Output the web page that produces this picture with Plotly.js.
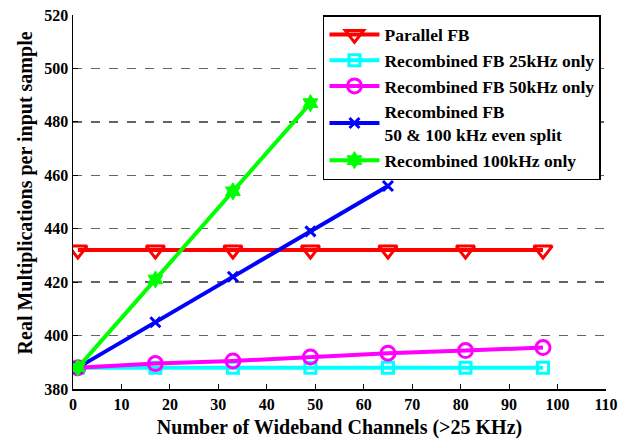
<!DOCTYPE html>
<html><head><meta charset="utf-8">
<script src="https://cdn.plot.ly/plotly-3.0.1.min.js"></script>
<style>html,body{margin:0;padding:0;background:#fff}#chart{width:636px;height:443px}</style>
</head><body><div id="chart"></div>
<script>
const channels = [1, 17, 33, 49, 65, 81, 97];
const parallelFB = [432, 432, 432, 432, 432, 432, 432];
const recomb25 = [388, 388, 388, 388, 388, 388, 388];
const recomb50 = [388, 389.5, 390.5, 392, 393.4, 394.4, 395.5];
const channelsSplit = [1, 17, 33, 49, 65];
const recombSplit = [388, 405, 422, 439, 456];
const channels100 = [1, 17, 33, 49];
const recomb100 = [388, 421, 454, 487];
const names = ['Parallel FB', 'Recombined FB 25kHz only', 'Recombined FB 50kHz only',
  'Recombined FB<br>50 &amp; 100 kHz even split', 'Recombined 100kHz only'];
const xTicks = [0,10,20,30,40,50,60,70,80,90,100,110];
const yTicks = [380,400,420,440,460,480,500,520];
const xTitle = 'Number of Wideband Channels (>25 KHz)';
const yTitle = 'Real Multiplications per input sample';

const FONT = "'Liberation Serif', 'Times New Roman', serif";
const traces = [
  {x: channels, y: parallelFB, name: names[0], mode: 'lines+markers',
   line: {color: 'rgb(255,0,0)', width: 4},
   marker: {symbol: 'triangle-down-open', size: 16, color: 'rgb(255,0,0)', line: {width: 3, color: 'rgb(255,0,0)'}}},
  {x: channels, y: recomb25, name: names[1], mode: 'lines+markers',
   line: {color: 'rgb(0,255,255)', width: 4},
   marker: {symbol: 'square-open', size: 11, color: 'rgb(0,255,255)', line: {width: 3, color: 'rgb(0,255,255)'}}},
  {x: channels, y: recomb50, name: names[2], mode: 'lines+markers',
   line: {color: 'rgb(255,0,255)', width: 4},
   marker: {symbol: 'circle-open', size: 14, color: 'rgb(255,0,255)', line: {width: 3, color: 'rgb(255,0,255)'}}},
  {x: channelsSplit, y: recombSplit, name: names[3], mode: 'lines+markers',
   line: {color: 'rgb(0,0,255)', width: 4},
   marker: {symbol: 'x-thin-open', size: 10, color: 'rgb(0,0,255)', line: {width: 3, color: 'rgb(0,0,255)'}}},
  {x: channels100, y: recomb100, name: names[4], mode: 'lines+markers',
   line: {color: 'rgb(0,255,0)', width: 4},
   marker: {symbol: 'hexagram', size: 13, color: 'rgb(0,255,0)', line: {width: 1, color: 'rgb(0,255,0)'}}}
];

const layout = {
  width: 636, height: 443,
  margin: {l: 73, r: 30, t: 15, b: 54},
  paper_bgcolor: '#fff', plot_bgcolor: '#fff',
  font: {family: FONT, color: '#000', size: 16, weight: 'bold'},
  xaxis: {
    range: [0, 110], tickvals: xTicks, ticktext: xTicks.map(String),
    showgrid: false, zeroline: false,
    showline: true, linecolor: '#000', linewidth: 1.5,
    ticks: 'inside', ticklen: 5, tickcolor: '#000', tickwidth: 1,
    tickfont: {family: FONT, size: 16, weight: 'bold'},
    title: {text: xTitle, font: {family: FONT, size: 20, weight: 'bold'}, standoff: 8}
  },
  yaxis: {
    range: [380, 520], tickvals: yTicks, ticktext: yTicks.map(String),
    showgrid: true, gridcolor: 'rgb(100,100,100)', gridwidth: 1.5, griddash: 'dash',
    zeroline: false,
    showline: true, linecolor: '#000', linewidth: 1.5,
    ticks: 'inside', ticklen: 5, tickcolor: '#000', tickwidth: 1,
    tickfont: {family: FONT, size: 16, weight: 'bold'}
  },
  annotations: [{
    text: yTitle, textangle: -90, showarrow: false,
    xref: 'paper', yref: 'paper', x: -0.09, y: 0.523,
    xanchor: 'center', yanchor: 'middle',
    font: {family: FONT, size: 20, weight: 'bold', color: '#000'}
  }],
  showlegend: true,
  legend: {
    x: 0.469, y: 1.0, xanchor: 'left', yanchor: 'top',
    bgcolor: '#fff', bordercolor: '#000', borderwidth: 1.5,
    font: {family: FONT, size: 17.5, weight: 'bold'},
    itemwidth: 50,
    tracegroupgap: 0
  }
};
Plotly.newPlot('chart', traces, layout, {displayModeBar: false, staticPlot: true});
</script></body></html>
